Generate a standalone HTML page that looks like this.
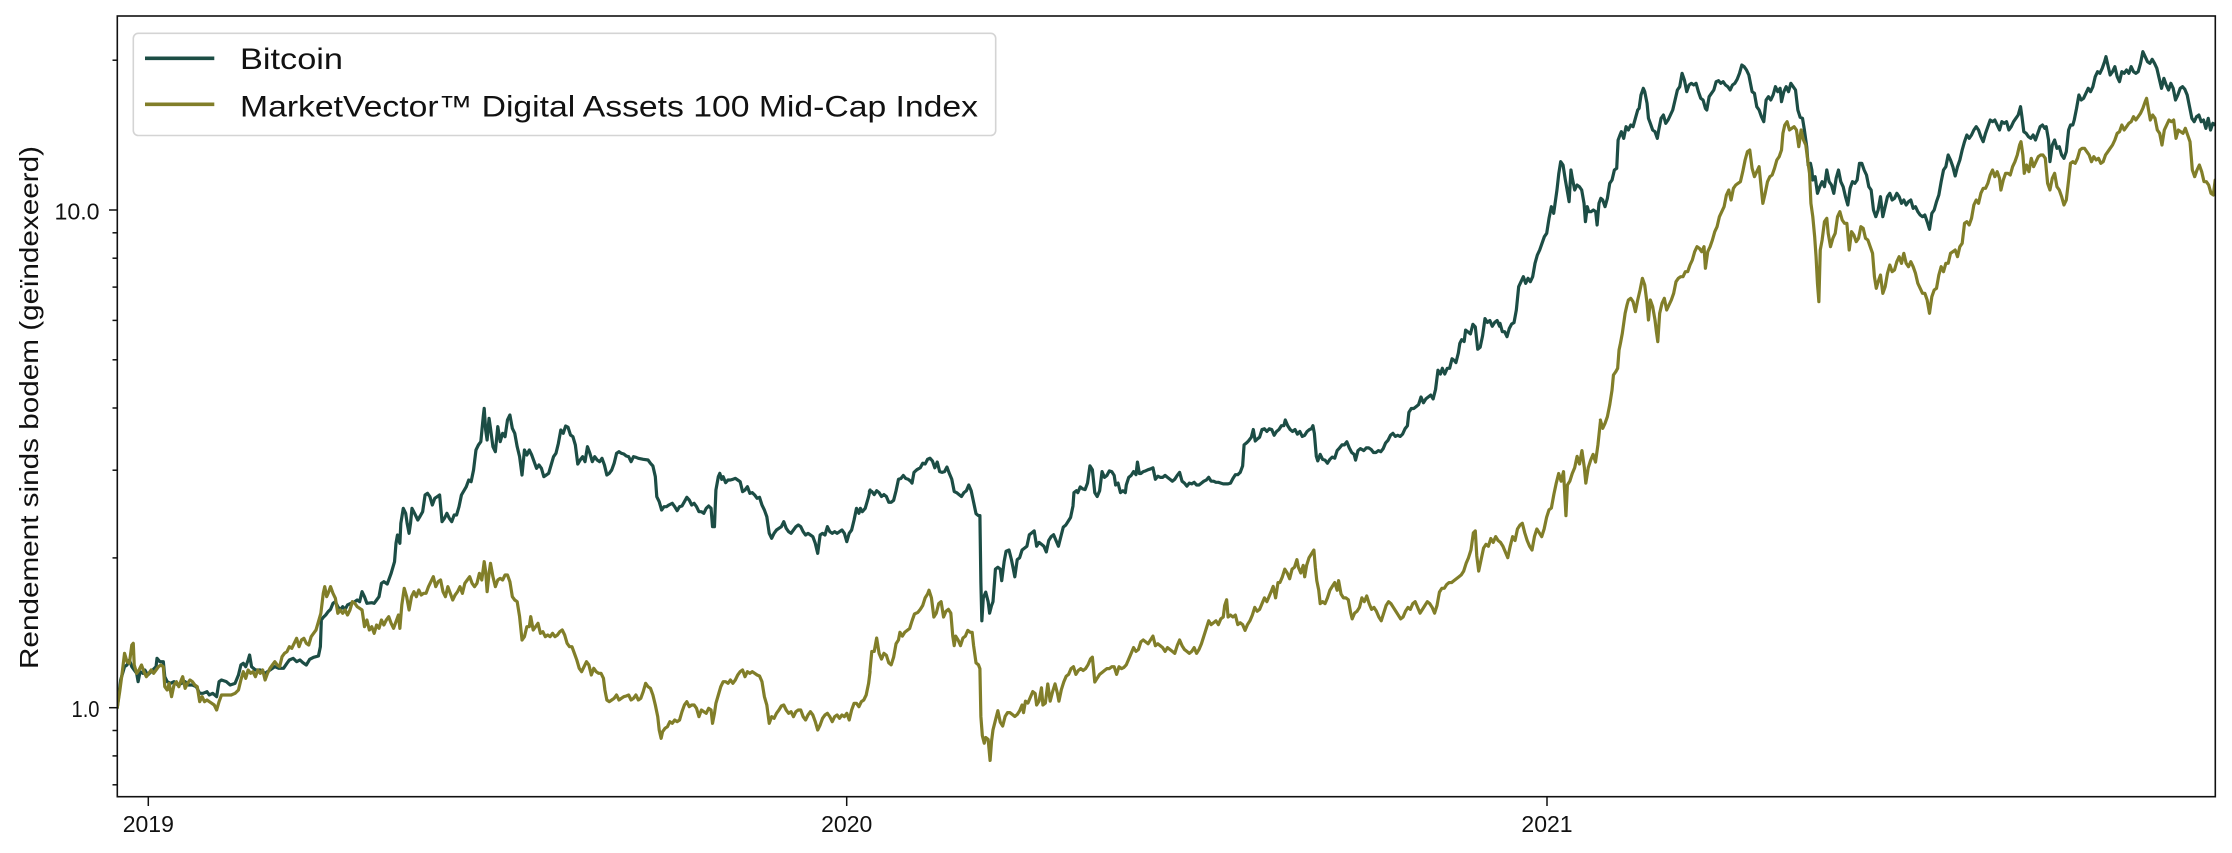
<!DOCTYPE html>
<html>
<head>
<meta charset="utf-8">
<style>
html,body{margin:0;padding:0;background:#fff;}
svg{display:block;}
text{font-family:"Liberation Sans",sans-serif;fill:#111;}
</style>
</head>
<body>
<svg width="2232" height="853" viewBox="0 0 2232 853" xmlns="http://www.w3.org/2000/svg">
<defs>
<clipPath id="pc"><rect x="117.3" y="16" width="2098" height="780.7"/></clipPath>
</defs>
<rect x="0" y="0" width="2232" height="853" fill="#fff"/>

<g clip-path="url(#pc)" fill="none" stroke-linejoin="round" stroke-linecap="round">
<!-- Bitcoin -->
<g stroke="#1c4d45">
<g transform="translate(110 380) scale(0.48473 0.33333)">
<polyline vector-effect="non-scaling-stroke" stroke-width="3.2" points="15,983 22,900 30,860 35,855 40,840 45,860 50,870 55,880 58,905 62,875 68,880 72,870 78,885 85,875 95,860 97,835 103,845 110,845 113,890 118,905 125,910 132,905 140,915 148,910 155,905 162,915 170,915 178,920 185,940 192,940 200,935 205,945 212,940 220,950 225,905 230,900 240,905 248,915 258,910 265,885 270,855 275,850 280,860 285,840 288,825 292,860 300,870 310,870 320,880 330,870 340,860 348,865 358,865 365,850 370,840 378,835 385,845 392,840 398,848 405,855 412,838 420,832 430,828 434,800 436,720 440,712 445,705 450,695 455,688 460,670 465,665 470,680 475,690 480,680 485,688 490,675 497,670 505,665 510,660 515,665 520,635 525,650 530,670 540,668 545,670 550,660 555,650 560,610 565,605 572,612 580,580 587,545 590,490 593,465 598,490 600,430 605,385 610,400 613,430 617,460 620,430 623,385 630,405 635,420 640,408 645,395 650,345 655,340 660,350 665,375 670,355 675,350 680,345 685,425 690,415 695,400 700,415 705,425 710,405 715,405 720,380 725,345 735,320 740,300 745,305 750,270 755,210 760,195 765,185 770,110 772,85 775,150 778,180 782,115 785,145 790,200 795,215 800,140 805,185 810,160 815,170 820,120 825,105 830,145 835,160 840,200 845,230 850,285 855,210 860,225 865,210 870,225 875,245 880,265 885,255 890,265 895,290 900,285 905,280 910,255 915,230 920,220 925,190 930,150 935,160 940,138 945,142 950,165 955,170 960,195 965,252 970,240 975,230 980,245 985,200 990,220 995,245 1000,230 1005,240 1010,245 1015,235 1020,255 1025,285 1030,280 1035,270 1040,250 1045,220 1050,215 1055,220 1060,222 1065,228 1070,230 1075,245 1080,230 1085,232 1090,235 1100,238 1110,240 1115,250 1120,258 1125,290 1128,350 1133,365 1138,390 1143,380 1148,380 1153,375 1160,370 1165,380 1170,392 1175,380 1180,378 1185,365 1190,352 1195,360 1200,375 1205,370 1210,380 1215,395 1220,395 1225,400 1230,385 1235,378 1240,385 1243,440 1247,440 1250,330 1255,290 1258,280 1262,298 1265,290 1270,308 1275,300 1280,300 1285,298 1290,295 1295,300 1300,305 1305,335 1310,330 1315,320 1320,340 1325,338 1330,345 1335,355 1340,352 1345,375 1350,390 1355,410 1360,460 1365,475 1370,460 1375,450 1380,445 1385,440 1390,425 1395,445 1400,455 1405,460 1410,450 1415,440 1420,435 1425,440 1430,455 1435,465 1440,460 1445,465 1450,470 1455,490 1460,520 1465,465 1470,460 1475,465 1480,440 1485,455 1490,460 1495,455 1500,460 1505,455 1510,450 1515,460 1520,485 1525,460 1530,450 1535,420 1540,385 1545,400 1548,385 1552,395 1558,385 1565,350 1568,330"/>
</g>
<g transform="translate(850 200) scale(0.48473 0.38256)">
<polyline vector-effect="non-scaling-stroke" stroke-width="3.2" points="40,762 45,762 50,770 55,760 60,765 65,775 70,770 75,775 80,790 85,790 90,785 95,760 100,730 105,728 110,720 115,728 120,730 125,735 128,740 132,712 138,705 145,700 150,688 155,690 160,678 165,675 170,682 175,700 180,685 185,710 190,712 195,710 200,698 205,715 210,730 215,762 220,765 225,770 230,775 235,765 240,760 245,745 250,760 255,790 260,820 265,825 268,825 270,1000 272,1100 275,1040 280,1025 285,1050 288,1080 292,1060 295,1050 298,1000 300,965 305,960 310,965 313,995 318,945 322,918 328,915 333,940 337,965 340,985 345,940 350,935 355,915 360,910 365,905 370,875 375,870 380,865 385,905 390,895 395,900 400,905 405,920 410,890 415,880 420,875 425,890 430,905 435,880 440,855 445,850 450,840 455,830 460,800 462,765 467,760 470,765 475,750 480,755 485,757 490,740 495,695 500,705 505,765 510,775 515,760 520,710 525,725 530,720 535,708 540,710 545,720 548,745 553,740 558,765 563,760 568,765 570,745 575,725 580,720 585,710 590,718 593,685 597,715 600,715 605,710 610,708 615,705 620,703 625,700 630,730 635,722 640,725 645,725 650,720 655,725 660,730 665,735 670,730 675,720 680,712 685,735 690,740 695,748 700,740 705,742 710,738 715,745 720,745 725,740 730,735 735,732 740,725 745,735 750,735 755,738 760,738 765,740 770,742 775,742 780,742 785,740 790,728 795,718 800,718 805,712 810,695 813,640 818,635 822,630 828,620 832,600 836,630 840,625 845,620 850,600 855,598 860,605 865,598 870,600 875,615 880,605 885,600 890,590 895,590 898,575 903,590 908,600 913,605 918,600 923,612 928,605 933,618 938,615 943,605 948,600 952,598 955,590 958,610 962,670 965,682 970,665 975,678 980,680 985,688 990,678 995,672 1000,675 1005,655 1010,648 1015,640 1020,640 1025,632 1030,648 1035,660 1040,665 1043,680 1048,655 1053,650 1060,655 1065,648 1070,648 1075,652 1080,660 1085,660 1090,655 1095,658 1100,650 1105,635 1110,628 1115,615 1120,610 1125,618 1130,615 1135,618 1140,612 1145,598 1150,590 1153,555 1158,545 1163,545 1168,540 1173,535 1178,515 1183,530 1188,520 1193,515 1198,510 1203,520 1208,495 1213,445 1218,455 1222,440 1227,455 1232,440 1237,440 1242,415 1247,420 1250,425 1255,400 1258,375 1262,365 1267,370 1270,340 1275,345 1280,350 1285,325 1290,332 1295,390 1300,385 1305,355 1310,310 1315,320 1320,315 1325,330 1330,320 1335,315 1340,330"/>
</g>
<g transform="translate(1500 30) scale(0.46685 0.33333)">
<polyline vector-effect="non-scaling-stroke" stroke-width="3.2" points="0,880 5,905 10,905 15,920 20,895 25,882 30,878 35,840 40,770 45,755 50,740 55,760 60,745 65,755 70,740 75,700 80,675 85,660 90,640 95,620 100,610 105,565 110,530 115,550 118,520 122,480 126,430 130,395 135,405 140,450 145,490 148,515 152,420 155,445 160,480 165,465 170,470 175,480 180,520 183,575 187,530 190,545 195,545 200,540 205,545 208,585 212,520 216,505 220,510 225,530 230,505 235,460 240,450 245,420 250,415 253,330 257,315 260,305 265,325 270,290 275,300 280,285 285,290 290,265 295,240 298,235 302,195 307,175 310,185 315,220 318,265 322,280 327,300 332,305 337,325 340,300 345,265 350,255 355,280 360,270 365,255 370,240 375,210 380,180 385,170 390,130 395,150 400,185 405,165 410,160 415,165 420,160 425,185 430,205 435,210 440,235 443,240 448,200 453,190 458,180 463,155 468,152 473,160 478,155 483,165 488,170 493,180 498,165 503,160 508,148 513,130 518,105 523,110 528,120 533,135 540,185 545,190 550,230 555,240 560,260 565,275 570,210 575,200 580,210 585,195 590,170 595,185 600,175 603,215 608,185 613,170 618,185 623,160 628,170 633,180 638,240 643,262 648,265 652,300 657,350 660,405 665,400 668,420 670,450 675,440 680,490 685,470 690,455 695,470 700,420 705,455 710,465 715,490 720,445 725,420 730,455 735,470 740,500 745,525 750,475 755,455 760,460 765,450 770,400 775,400 780,420 785,435 790,470 795,480 800,540 805,560 810,540 815,500 820,560 825,530 830,500 835,490 840,510 845,505 850,490 855,500 860,520 865,510 870,525 875,515 880,510 885,535 890,530 895,545 900,555 905,560 910,555 915,575 920,598 925,550 930,540 935,515 940,495 945,455 950,420 955,410 960,375 965,390 970,410 975,438 980,410 985,390 990,360 995,335 1000,315 1005,325 1010,315 1015,300 1020,290 1025,300 1030,320 1035,335 1040,310 1045,290 1050,270 1055,275 1060,270 1065,285 1070,300 1075,275 1080,280 1085,275 1090,300 1095,290 1100,275 1105,265 1110,255 1115,230 1118,260 1122,305 1127,310 1132,320 1137,325 1142,315 1147,330 1152,310 1157,290 1162,285 1167,295 1170,290 1175,330 1178,395 1183,345 1188,330 1193,355 1198,350 1203,375 1208,385 1213,365 1218,300 1222,285 1227,285 1230,270 1235,235 1240,195 1245,210 1250,205 1255,190 1260,175 1265,185 1270,170 1275,140 1280,125 1285,130 1290,115 1295,95 1298,80 1302,105 1307,135 1312,125 1317,110 1322,140 1327,155 1332,125 1337,130 1342,120 1347,130 1352,110 1357,125 1362,130 1367,125 1372,100 1377,65 1382,80 1387,95 1392,100 1397,88 1402,100 1407,115 1412,145 1417,175 1422,145 1427,165 1432,180 1437,160 1442,175 1447,210 1452,195 1457,175 1462,170 1467,178 1472,195 1477,230 1482,265 1487,275 1492,260 1497,255 1502,275 1507,270 1512,295 1517,265 1522,300 1527,280 1532,285 1540,285"/>
</g>
</g>

<!-- MarketVector -->
<g stroke="#817e29">
<g transform="translate(110 380) scale(0.48473 0.33333)">
<polyline vector-effect="non-scaling-stroke" stroke-width="3.2" points="15,983 20,935 25,880 30,820 35,845 40,850 45,795 48,790 50,855 55,880 60,870 65,855 70,875 75,890 80,880 85,870 90,880 95,870 100,860 105,855 110,860 113,920 118,930 122,910 127,950 132,915 137,905 142,920 147,900 150,890 155,925 160,910 165,900 170,905 175,915 180,920 185,965 190,950 195,965 200,960 205,965 210,970 215,975 220,990 225,965 230,945 240,945 250,945 258,940 265,930 270,900 275,875 280,895 285,870 290,880 295,875 300,890 305,870 310,880 315,870 320,900 325,880 330,865 335,855 340,845 345,855 350,860 355,830 360,820 365,815 370,800 375,805 380,790 385,775 390,800 395,780 400,775 405,790 410,795 415,770 420,760 425,750 430,725 435,700 440,640 443,620 447,650 450,640 455,620 460,640 465,655 470,700 475,690 480,700 485,690 490,705 495,690 500,665 505,670 510,680 515,685 520,690 525,740 530,720 535,750 540,740 545,760 550,735 555,745 560,720 565,735 570,720 575,710 580,730 585,745 590,725 595,705 598,745 602,675 607,625 612,650 617,690 622,650 627,635 632,650 637,630 642,645 647,640 652,640 657,620 662,605 667,590 672,620 677,605 682,600 687,635 692,650 697,620 702,640 707,660 712,645 717,635 722,620 727,640 732,610 737,600 742,590 747,610 752,620 757,610 762,580 767,600 772,545 775,575 778,635 782,580 785,550 790,590 795,620 800,600 805,595 810,600 815,585 820,585 825,605 830,650 835,660 840,665 845,710 850,780 855,770 860,740 865,740 868,710 873,750 878,740 883,730 888,760 893,755 898,770 903,765 908,770 913,760 918,770 923,765 928,755 933,750 938,765 943,790 948,800 953,800 958,820 963,840 968,865 973,875 978,860 983,845 988,855 993,885 998,865 1003,875 1008,880 1013,880 1018,895 1021,930 1025,960 1030,965 1035,960 1040,955 1045,945 1050,960 1055,955 1060,950 1065,948 1070,945 1075,960 1080,955 1085,945 1090,960 1095,955 1100,935 1105,910 1110,920 1115,925 1120,945 1125,975 1130,1010 1133,1050 1137,1075 1140,1055 1145,1045 1150,1040 1155,1025 1160,1030 1165,1020 1170,1025 1175,1020 1180,995 1185,975 1190,965 1195,980 1200,975 1205,975 1210,985 1215,1010 1220,990 1225,995 1230,1000 1235,985 1240,990 1243,1030 1247,1000 1250,970 1255,945 1260,920 1265,905 1270,905 1275,910 1280,900 1285,910 1290,900 1295,885 1300,875 1305,870 1310,890 1315,875 1320,880 1325,875 1330,880 1335,885 1340,888 1345,905 1350,950 1355,975 1360,1030 1365,1010 1370,1015 1375,1000 1380,990 1385,978 1390,975 1395,990 1400,1000 1405,995 1410,1010 1415,995 1420,990 1425,990 1430,1010 1435,1020 1440,1005 1445,995 1450,1005 1455,1025 1460,1050 1465,1035 1470,1015 1475,1005 1480,1000 1485,1010 1490,1025 1495,1010 1500,1005 1505,1015 1510,1005 1515,1010 1520,1000 1525,1020 1530,990 1535,970 1540,970 1545,980 1550,965 1555,960 1560,945 1565,910 1568,875"/>
</g>
<g transform="translate(850 200) scale(0.48473 0.38256)">
<polyline vector-effect="non-scaling-stroke" stroke-width="3.2" points="41,1232 45,1180 50,1180 55,1145 60,1185 65,1200 70,1185 75,1190 80,1210 85,1215 90,1195 95,1160 100,1150 103,1130 108,1140 113,1130 118,1125 123,1120 128,1100 133,1082 140,1078 145,1070 150,1060 155,1040 160,1030 163,1020 168,1040 173,1090 178,1080 183,1055 188,1050 193,1090 198,1075 203,1070 208,1080 212,1140 215,1165 218,1140 223,1150 228,1165 233,1145 238,1140 243,1125 248,1130 252,1130 255,1165 260,1210 265,1215 268,1225 270,1350 273,1400 277,1420 280,1405 285,1410 289,1465 292,1415 295,1385 300,1360 305,1335 310,1365 315,1375 320,1350 325,1340 330,1340 335,1345 340,1350 345,1345 350,1335 355,1320 358,1340 362,1310 367,1315 372,1300 377,1285 382,1290 385,1320 390,1310 395,1275 398,1320 403,1315 408,1265 413,1310 418,1285 423,1265 428,1290 431,1310 436,1280 441,1260 446,1245 451,1240 456,1225 461,1220 466,1240 471,1230 476,1225 481,1230 486,1225 491,1215 496,1200 500,1195 505,1260 510,1250 515,1240 520,1235 525,1230 530,1225 535,1225 540,1220 545,1220 550,1240 555,1220 560,1225 565,1222 570,1215 575,1200 580,1185 585,1170 590,1180 595,1175 600,1155 605,1150 610,1155 615,1160 620,1150 625,1140 630,1165 635,1160 640,1165 645,1170 650,1180 655,1170 660,1175 665,1180 670,1185 675,1165 680,1150 685,1165 690,1175 695,1180 700,1185 705,1180 710,1170 715,1185 720,1175 725,1160 730,1140 735,1120 740,1100 745,1110 750,1105 755,1100 760,1110 765,1095 770,1090 773,1060 777,1045 780,1090 785,1085 790,1090 795,1085 800,1110 805,1105 810,1110 815,1125 820,1110 825,1100 830,1085 835,1065 840,1075 845,1070 850,1055 855,1040 860,1050 865,1035 870,1020 873,1010 878,1040 883,1000 887,1000 892,985 897,965 902,975 907,990 912,965 917,960 922,940 925,960 930,975 935,955 938,985 942,955 947,935 952,925 957,915 960,960 963,995 967,1020 970,1055 975,1050 980,1055 985,1040 990,1020 995,1010 1000,1000 1005,1020 1008,995 1013,1030 1018,1040 1023,1040 1028,1045 1033,1080 1036,1095 1041,1080 1046,1075 1051,1065 1056,1040 1061,1050 1066,1035 1071,1055 1076,1070 1081,1065 1086,1075 1091,1090 1096,1100 1101,1080 1106,1060 1111,1050 1116,1055 1121,1065 1126,1075 1131,1085 1136,1095 1141,1090 1146,1075 1151,1065 1156,1070 1161,1055 1166,1050 1171,1065 1176,1080 1181,1070 1186,1060 1191,1050 1196,1055 1201,1065 1206,1080 1211,1060 1216,1025 1221,1015 1226,1015 1231,1005 1236,1000 1241,1000 1246,995 1251,990 1256,985 1261,980 1266,970 1271,950 1276,935 1281,915 1286,870 1290,865 1293,930 1297,970 1302,940 1307,910 1312,900 1317,905 1322,885 1327,895 1332,880 1337,890 1342,895 1347,905 1352,920 1357,935 1362,905 1367,880 1372,890 1377,860 1382,850 1387,845 1392,870 1397,890 1402,905 1407,915 1412,880 1417,860 1422,870 1427,880 1432,860 1437,830 1442,810 1447,805 1452,770 1457,740 1462,715 1467,735 1472,710 1477,825 1480,745 1485,735 1490,715 1495,700 1500,670 1505,690 1510,655 1515,700 1518,740 1523,700 1528,680 1533,665 1538,685 1543,640 1548,580"/>
</g>
<g transform="translate(1500 30) scale(0.46685 0.33333)">
<polyline vector-effect="non-scaling-stroke" stroke-width="3.2" points="215,1170 220,1195 225,1180 230,1160 235,1125 240,1080 243,1035 248,1025 252,1015 255,960 258,940 262,910 265,880 268,850 272,825 275,810 280,805 285,815 290,845 295,810 300,780 305,745 310,765 315,820 318,870 322,810 327,830 332,870 335,905 338,935 342,850 347,820 352,805 357,840 362,825 367,810 372,790 377,755 382,745 387,740 392,740 397,725 402,725 407,705 412,690 417,665 422,650 427,655 432,665 437,650 440,715 445,665 450,650 455,630 460,605 465,590 470,560 475,545 480,530 485,495 490,480 495,510 500,475 505,465 510,460 515,455 520,425 525,390 530,365 535,360 540,415 545,440 550,425 555,410 560,480 563,520 568,490 573,455 578,440 583,435 588,415 593,390 598,380 603,360 606,310 610,285 615,275 620,300 625,295 630,290 635,300 640,350 645,300 650,330 655,345 660,400 663,430 666,520 670,560 674,620 677,680 680,760 683,815 686,660 690,630 695,575 700,565 703,610 708,650 713,625 718,610 723,560 728,545 733,570 738,580 743,580 748,660 753,605 758,615 763,635 768,625 773,590 778,595 783,625 788,630 793,650 798,670 802,740 806,775 810,755 815,735 820,790 825,770 830,730 835,705 840,725 845,720 850,695 855,680 860,700 865,670 870,700 875,710 880,695 885,710 890,730 895,760 900,775 905,790 910,790 915,810 920,850 925,800 930,780 935,775 940,735 945,710 950,725 955,700 960,700 965,670 970,665 975,660 980,680 985,650 990,640 995,580 1000,575 1005,585 1010,565 1015,525 1020,510 1025,520 1030,490 1035,475 1040,475 1045,460 1050,435 1055,420 1060,440 1065,425 1070,445 1073,480 1078,450 1083,430 1088,430 1093,435 1098,410 1103,395 1108,375 1113,345 1116,335 1120,375 1123,430 1128,405 1133,425 1138,385 1143,410 1148,395 1153,380 1158,375 1163,375 1168,385 1173,460 1178,480 1183,445 1188,430 1193,470 1198,480 1203,500 1208,525 1213,510 1218,450 1222,400 1227,395 1232,400 1237,385 1242,360 1247,355 1252,355 1257,365 1262,375 1267,395 1272,380 1277,390 1282,385 1287,400 1292,395 1297,375 1302,365 1307,355 1312,345 1317,330 1322,310 1327,305 1332,285 1337,300 1342,290 1347,280 1352,275 1357,260 1362,270 1367,260 1372,250 1377,235 1382,215 1385,205 1388,230 1393,270 1398,255 1403,265 1408,300 1413,310 1418,345 1423,300 1428,285 1433,270 1438,275 1443,270 1448,325 1453,300 1458,305 1463,310 1468,295 1473,315 1478,335 1483,420 1488,440 1493,420 1498,405 1503,425 1508,455 1513,455 1518,465 1523,490 1528,495 1532,450 1540,445"/>
</g>
</g>
</g>

<!-- axes frame -->
<rect x="117.3" y="16" width="2098" height="780.7" fill="none" stroke="#111" stroke-width="1.6"/>

<!-- y ticks -->
<g stroke="#111" stroke-width="1.5">
<line x1="109" y1="210" x2="117.3" y2="210"/>
<line x1="109" y1="707.7" x2="117.3" y2="707.7"/>
<!-- minor -->
<line x1="112.5" y1="730.5" x2="117.3" y2="730.5"/>
<line x1="112.5" y1="755.9" x2="117.3" y2="755.9"/>
<line x1="112.5" y1="784.8" x2="117.3" y2="784.8"/>
<line x1="112.5" y1="557.9" x2="117.3" y2="557.9"/>
<line x1="112.5" y1="470.2" x2="117.3" y2="470.2"/>
<line x1="112.5" y1="408.0" x2="117.3" y2="408.0"/>
<line x1="112.5" y1="359.8" x2="117.3" y2="359.8"/>
<line x1="112.5" y1="320.4" x2="117.3" y2="320.4"/>
<line x1="112.5" y1="287.1" x2="117.3" y2="287.1"/>
<line x1="112.5" y1="258.2" x2="117.3" y2="258.2"/>
<line x1="112.5" y1="232.8" x2="117.3" y2="232.8"/>
<line x1="112.5" y1="60.2" x2="117.3" y2="60.2"/>
</g>
<!-- x ticks -->
<g stroke="#111" stroke-width="1.5">
<line x1="148.3" y1="796.7" x2="148.3" y2="806"/>
<line x1="846.7" y1="796.7" x2="846.7" y2="806"/>
<line x1="1547" y1="796.7" x2="1547" y2="806"/>
</g>

<!-- tick labels -->
<g font-size="23">
<text x="99.5" y="219.5" text-anchor="end" textLength="45" lengthAdjust="spacingAndGlyphs">10.0</text>
<text x="99.5" y="717" text-anchor="end" textLength="28" lengthAdjust="spacingAndGlyphs">1.0</text>
<text x="148.3" y="832" text-anchor="middle">2019</text>
<text x="846.7" y="832" text-anchor="middle">2020</text>
<text x="1547" y="832" text-anchor="middle">2021</text>
</g>

<!-- y label -->
<text transform="translate(38 407.5) rotate(-90)" font-size="26" text-anchor="middle" textLength="523" lengthAdjust="spacingAndGlyphs">Rendement sinds bodem (geïndexeerd)</text>

<!-- legend -->
<rect x="133.3" y="33.3" width="862.4" height="102.2" rx="5" ry="5" fill="#fff" fill-opacity="0.85" stroke="#d4d4d4" stroke-width="1.6"/>
<line x1="145" y1="58.3" x2="214.3" y2="58.3" stroke="#1c4d45" stroke-width="3.6"/>
<line x1="145" y1="104.3" x2="214.3" y2="104.3" stroke="#817e29" stroke-width="3.6"/>
<text x="240" y="69" font-size="30" textLength="103" lengthAdjust="spacingAndGlyphs">Bitcoin</text>
<text x="240" y="116.5" font-size="30" textLength="738" lengthAdjust="spacingAndGlyphs">MarketVector™ Digital Assets 100 Mid-Cap Index</text>
</svg>
</body>
</html>
